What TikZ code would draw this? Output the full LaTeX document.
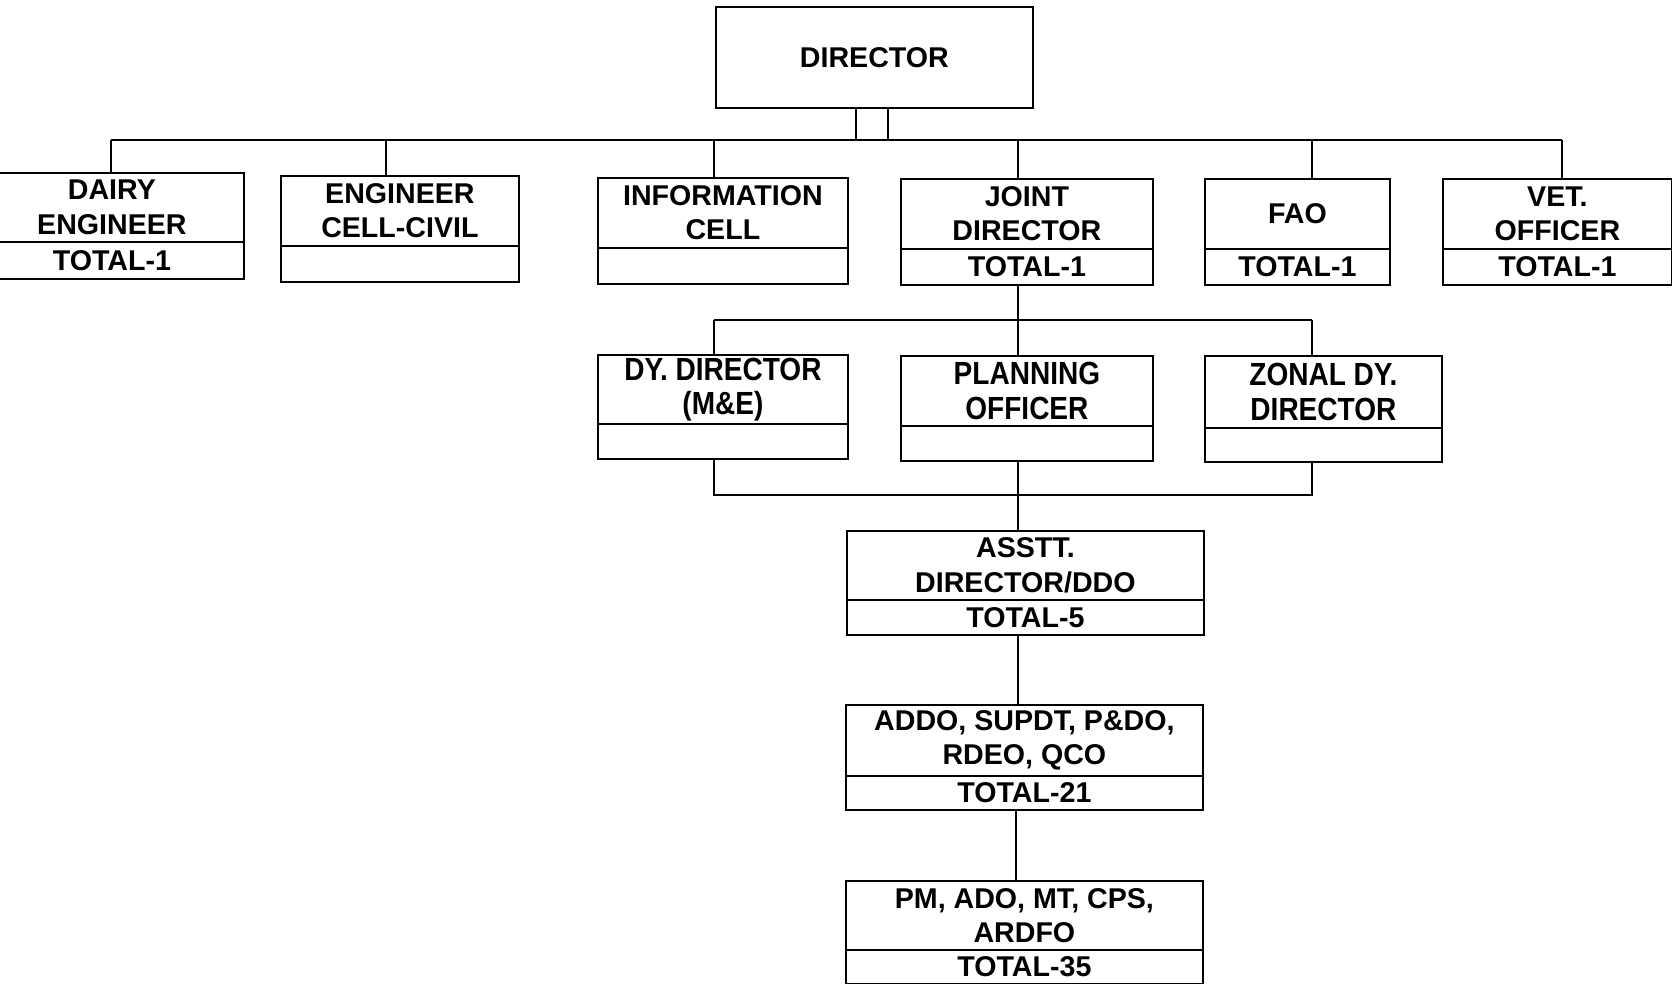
\documentclass[tikz,border=0pt]{standalone}
\usepackage{graphicx}
\usepackage{fontspec}
\setmainfont{Liberation Sans}
\tikzset{
  box/.style={draw, line width=0.9pt, inner sep=1pt, align=center,
    font=\fontsize{14.3}{17.2}\selectfont\bfseries, anchor=north west},
  conn/.style={line width=0.7pt},
}
\newcommand\talltext[1]{\scalebox{0.98}[1.12]{#1}}
\newcommand\orgbox[8]{%
  \pgfmathsetmacro\bw{(#4-#2)*0.5}%
  \pgfmathsetmacro\bh{(#5-#3)*0.5}%
  \pgfmathsetmacro\bt{(#6-#5)*0.5}%
  \node[box, minimum width=\bw pt, minimum height=\bh pt] (#1) at (#2,#3) {#7};%
  \node[box, minimum width=\bw pt, minimum height=\bt pt] (#1T) at (#2,#5) {#8};%
}
\begin{document}
\begin{tikzpicture}[x=0.5pt, y=-0.5pt]
\useasboundingbox (0,0) rectangle (1672,984);
% Director
\node[box, minimum width=158.5pt, minimum height=50.5pt] (dir) at (715,6) {DIRECTOR};
% Row 1
\orgbox{dairy}{-21}{172}{243}{241}{278}{DAIRY\\ENGINEER}{TOTAL-1}
\orgbox{eng}{280}{175}{518}{245}{281}{ENGINEER\\CELL-CIVIL}{}
\orgbox{info}{597}{177}{847}{247}{283}{INFORMATION\\CELL}{}
\orgbox{jd}{900}{178}{1152}{248}{284}{JOINT\\DIRECTOR}{TOTAL-1}
\orgbox{fao}{1204}{178}{1389}{248}{284}{FAO}{TOTAL-1}
\orgbox{vet}{1442}{178}{1671}{248}{284}{VET.\\OFFICER}{TOTAL-1}
% Row 2
\orgbox{dy}{597}{354}{847}{423}{458}{\talltext{DY. DIRECTOR}\\\talltext{(M\&E)}}{}
\orgbox{plan}{900}{355}{1152}{425}{460}{\talltext{PLANNING}\\\talltext{OFFICER}}{}
\orgbox{zonal}{1204}{355}{1441}{427}{461}{\talltext{ZONAL DY.}\\\talltext{DIRECTOR}}{}
% Column
\orgbox{asstt}{846}{530}{1203}{599}{634}{ASSTT.\\DIRECTOR/DDO}{TOTAL-5}
\orgbox{addo}{845}{704}{1202}{775}{809}{ADDO, SUPDT, P\&DO,\\RDEO, QCO}{TOTAL-21}
\orgbox{pm}{845}{880}{1202}{949}{983}{PM, ADO, MT, CPS,\\ARDFO}{TOTAL-35}
% Director junction
\coordinate (jl) at (856,140);
\coordinate (jr) at (888,140);
\draw[conn] (dir.south -| jl) -- (jl);
\draw[conn] (dir.south -| jr) -- (jr);
% Top bus
\coordinate (d1) at (111,140);
\coordinate (d2) at (386,140);
\coordinate (d3) at (714,140);
\coordinate (d4) at (1018,140);
\coordinate (d5) at (1312,140);
\coordinate (d6) at (1562,140);
\draw[conn] (d1) -- (d6);
\draw[conn] (d1) -- (d1 |- dairy.north);
\draw[conn] (d2) -- (d2 |- eng.north);
\draw[conn] (d3) -- (d3 |- info.north);
\draw[conn] (d4) -- (d4 |- jd.north);
\draw[conn] (d5) -- (d5 |- fao.north);
\draw[conn] (d6) -- (d6 |- vet.north);
% Row 2 buses
\coordinate (s1) at (1018,320);
\coordinate (e1) at (714,320);
\coordinate (e2) at (1312,320);
\draw[conn] (jdT.south -| s1) -- (plan.north -| s1);
\draw[conn] (e1) -- (e2);
\draw[conn] (e1) -- (e1 |- dy.north);
\draw[conn] (e2) -- (e2 |- zonal.north);
\coordinate (f1) at (714,495);
\coordinate (f2) at (1312,495);
\coordinate (s2) at (1018,495);
\draw[conn] (dyT.south -| f1) -- (f1) -- (f2) -- (zonalT.south -| f2);
\draw[conn] (planT.south -| s2) -- (asstt.north -| s2);
\draw[conn] (assttT.south -| s2) -- (addo.north -| s2);
\coordinate (s3) at (1016,0);
\draw[conn] (addoT.south -| s3) -- (pm.north -| s3);
\end{tikzpicture}
\end{document}
